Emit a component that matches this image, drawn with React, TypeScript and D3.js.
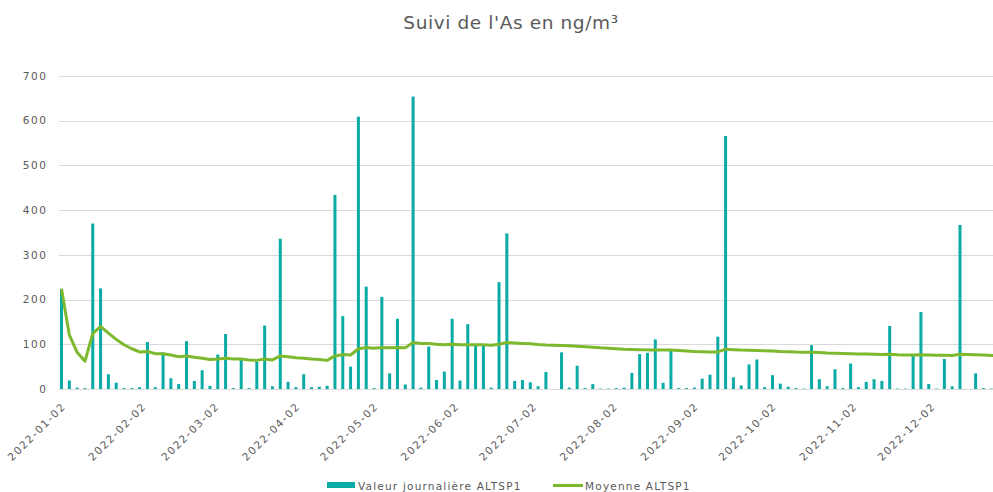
import { useEffect, useRef } from 'react'
import * as d3 from 'd3'

// one sample every 3 days starting 2022-01-02
const firstSample = '2022-01-02'
const stepDays = 3

// daily value ALTSP1 (ng/m3), null = no measurement
const dailyValues: (number | null)[] = [
  224, 19, 3, 2, 370, 225, 33, 14, 2, 2,
  4, 105, 4, 82, 24, 11, 107, 18, 42, 7,
  77, 123, 2, 69, 2, 61, 142, 6, 336, 16,
  4, 33, 4, 5, 7, 434, 163, 50, 609, 229,
  2, 206, 35, 157, 10, 654, 3, 95, 20, 39,
  157, 19, 145, 97, 97, 3, 239, 348, 18, 20,
  15, 6, 38, null, 82, 3, 52, 2, 11, 1,
  1, 2, 3, 36, 78, 81, 111, 14, 89, 2,
  2, 3, 23, 32, 117, 566, 26, 8, 55, 66,
  4, 31, 12, 5, 2, 1, 98, 22, 6, 44,
  2, 57, 4, 16, 22, 18, 141, 1, 1, 74,
  172, 11, 1, 67, 6, 367, null, 35, 2, 1,
]

// running mean ALTSP1
const meanValues: number[] = [
  224, 121, 82, 62, 124, 140, 125, 111, 99, 90,
  83, 84, 79, 79, 76, 72, 74, 71, 69, 66,
  67, 69, 67, 67, 65, 64, 67, 65, 74, 72,
  70, 69, 67, 66, 64, 74, 77, 76, 90, 93,
  91, 93, 92, 93, 92, 104, 102, 102, 100, 99,
  100, 99, 99, 99, 99, 98, 100, 104, 103, 102,
  101, 99.5, 98.5, 98, 97.5, 96.5, 95.5, 94.5, 93.5, 92,
  91, 90, 89, 88.5, 88, 87.5, 87.5, 87, 87, 86,
  85, 84, 83.5, 82.5, 83, 89, 88, 87, 86.5, 86,
  85.5, 85, 84, 83.5, 82.5, 82, 82, 81.5, 80.5, 80,
  79.5, 79, 78.5, 78, 77.5, 77, 77.5, 76.5, 76, 76,
  76.5, 76, 75.5, 75.5, 75, 77.5, 77, 76.5, 76, 75,
  74.5,
]

const tickDates = [
  '2022-01-02', '2022-02-02', '2022-03-02', '2022-04-02', '2022-05-02', '2022-06-02',
  '2022-07-02', '2022-08-02', '2022-09-02', '2022-10-02', '2022-11-02', '2022-12-02',
]
const yTicks = [0, 100, 200, 300, 400, 500, 600, 700]

const title = "Suivi de l'As en ng/m³"
const barLabel = 'Valeur journalière ALTSP1'
const lineLabel = 'Moyenne ALTSP1'

const TEAL = '#0AABA5'
const GREEN = '#7DB92E'
const TEXT = '#595959'
const GRID = '#D9D9D9'
const FONT = '"DejaVu Sans", sans-serif'

export default function App() {
  const svgRef = useRef<SVGSVGElement>(null)

  useEffect(() => {
    const svgEl = svgRef.current
    if (!svgEl) return

    const width = 993
    const height = 492
    const plotLeft = 59
    const parse = d3.utcParse('%Y-%m-%d')
    const start = parse(firstSample)!
    const dateAt = (i: number) => d3.utcDay.offset(start, i * stepDays)

    const x = d3.scaleUtc()
      .domain([start, dateAt(115)])
      .range([61.5, 960])
    const y = d3.scaleLinear().domain([0, 700]).range([389, 76])

    const svg = d3.select(svgEl)
    svg.attr('width', width).attr('height', height).selectAll('*').remove()

    // Title
    svg.append('text')
      .attr('x', 511)
      .attr('y', 29)
      .attr('text-anchor', 'middle')
      .style('fill', TEXT)
      .style('font-size', '18.5px')
      .style('letter-spacing', '0.6px')
      .style('font-family', FONT)
      .text(title)

    // Gridlines + y labels
    const gy = svg.append('g')
    gy.selectAll('line')
      .data(yTicks)
      .enter()
      .append('line')
      .attr('x1', plotLeft)
      .attr('x2', width)
      .attr('y1', d => Math.round(y(d)) + 0.5)
      .attr('y2', d => Math.round(y(d)) + 0.5)
      .style('stroke', GRID)
      .style('stroke-width', '1')
    gy.selectAll('text')
      .data(yTicks)
      .enter()
      .append('text')
      .attr('x', 47.5)
      .attr('y', d => y(d))
      .attr('dy', '0.36em')
      .attr('text-anchor', 'end')
      .style('fill', TEXT)
      .style('font-size', '10.5px')
      .style('letter-spacing', '1.6px')
      .style('font-family', FONT)
      .text(d => d)

    // X labels
    svg.append('g')
      .selectAll('text')
      .data(tickDates)
      .enter()
      .append('text')
      .attr('transform', d => `translate(${x(parse(d)!) + 5},407) rotate(-45)`)
      .attr('text-anchor', 'end')
      .style('fill', TEXT)
      .style('font-size', '10.5px')
      .style('letter-spacing', '1.6px')
      .style('font-family', FONT)
      .text(d => d)

    // Bars
    const bars = dailyValues
      .map((v, i) => ({ date: dateAt(i), v }))
      .filter(d => d.v !== null) as { date: Date; v: number }[]
    svg.append('g')
      .selectAll('rect')
      .data(bars)
      .enter()
      .append('rect')
      .attr('x', d => x(d.date) - 1.5)
      .attr('width', 3)
      .attr('y', d => y(d.v))
      .attr('height', d => y(0) - y(d.v))
      .style('fill', TEAL)

    // Running mean
    const line = d3.line<number>()
      .x((_, i) => x(dateAt(i)))
      .y(d => y(d))
    svg.append('path')
      .datum(meanValues)
      .attr('fill', 'none')
      .attr('d', line)
      .style('stroke', GREEN)
      .style('stroke-width', '3')
      .style('stroke-linejoin', 'round')

    // Legend
    const lg = svg.append('g')
    lg.append('rect')
      .attr('x', 327).attr('y', 482).attr('width', 28).attr('height', 6)
      .style('fill', TEAL)
    lg.append('text')
      .attr('x', 358).attr('y', 489.5)
      .style('fill', TEXT)
      .style('font-size', '10.5px')
      .style('letter-spacing', '1.2px')
      .style('font-family', FONT)
      .text(barLabel)
    lg.append('line')
      .attr('x1', 553).attr('x2', 583).attr('y1', 485.5).attr('y2', 485.5)
      .style('stroke', GREEN)
      .style('stroke-width', '3')
    lg.append('text')
      .attr('x', 585).attr('y', 489.5)
      .style('fill', TEXT)
      .style('font-size', '10.5px')
      .style('letter-spacing', '1.2px')
      .style('font-family', FONT)
      .text(lineLabel)
  }, [])

  return (
    <div style={{ position: 'absolute', left: 0, top: 0, width: 993, height: 492, overflow: 'hidden', background: '#fff' }}>
      <svg ref={svgRef} style={{ display: 'block' }} />
    </div>
  )
}
